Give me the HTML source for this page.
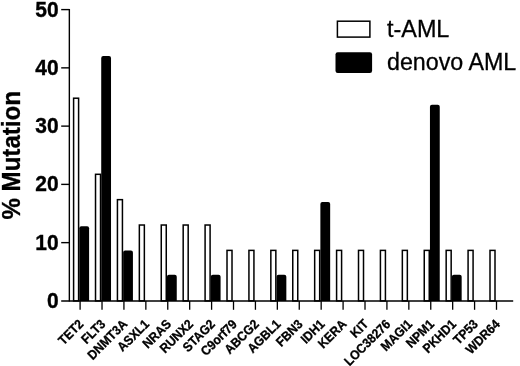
<!DOCTYPE html>
<html><head><meta charset="utf-8"><title>Mutation chart</title>
<style>
html,body{margin:0;padding:0;background:#fff;}
svg{display:block;font-family:"Liberation Sans",Arial,sans-serif;}
</style></head><body>
<svg width="520" height="366" viewBox="0 0 520 366">
<rect width="520" height="366" fill="#fff"/>

<rect x="73.60" y="98.21" width="5" height="202.69" fill="#fff" stroke="#000" stroke-width="1.5"/>
<path d="M79.30 300.9 V228.19 q0 -2 2 -2 h5.8 q2 0 2 2 V300.9 z" fill="#000"/>
<rect x="95.52" y="174.30" width="5" height="126.60" fill="#fff" stroke="#000" stroke-width="1.5"/>
<path d="M101.22 300.9 V58.06 q0 -2 2 -2 h5.8 q2 0 2 2 V300.9 z" fill="#000"/>
<rect x="117.43" y="199.66" width="5" height="101.24" fill="#fff" stroke="#000" stroke-width="1.5"/>
<path d="M123.13 300.9 V252.49 q0 -2 2 -2 h5.8 q2 0 2 2 V300.9 z" fill="#000"/>
<rect x="139.35" y="225.02" width="5" height="75.88" fill="#fff" stroke="#000" stroke-width="1.5"/>
<rect x="161.26" y="225.02" width="5" height="75.88" fill="#fff" stroke="#000" stroke-width="1.5"/>
<path d="M166.96 300.9 V276.80 q0 -2 2 -2 h5.8 q2 0 2 2 V300.9 z" fill="#000"/>
<rect x="183.18" y="225.02" width="5" height="75.88" fill="#fff" stroke="#000" stroke-width="1.5"/>
<rect x="205.09" y="225.02" width="5" height="75.88" fill="#fff" stroke="#000" stroke-width="1.5"/>
<path d="M210.79 300.9 V276.80 q0 -2 2 -2 h5.8 q2 0 2 2 V300.9 z" fill="#000"/>
<rect x="227.01" y="250.38" width="5" height="50.52" fill="#fff" stroke="#000" stroke-width="1.5"/>
<rect x="248.93" y="250.38" width="5" height="50.52" fill="#fff" stroke="#000" stroke-width="1.5"/>
<rect x="270.84" y="250.38" width="5" height="50.52" fill="#fff" stroke="#000" stroke-width="1.5"/>
<path d="M276.54 300.9 V276.80 q0 -2 2 -2 h5.8 q2 0 2 2 V300.9 z" fill="#000"/>
<rect x="292.76" y="250.38" width="5" height="50.52" fill="#fff" stroke="#000" stroke-width="1.5"/>
<rect x="314.67" y="250.38" width="5" height="50.52" fill="#fff" stroke="#000" stroke-width="1.5"/>
<path d="M320.37 300.9 V203.88 q0 -2 2 -2 h5.8 q2 0 2 2 V300.9 z" fill="#000"/>
<rect x="336.59" y="250.38" width="5" height="50.52" fill="#fff" stroke="#000" stroke-width="1.5"/>
<rect x="358.51" y="250.38" width="5" height="50.52" fill="#fff" stroke="#000" stroke-width="1.5"/>
<rect x="380.42" y="250.38" width="5" height="50.52" fill="#fff" stroke="#000" stroke-width="1.5"/>
<rect x="402.34" y="250.38" width="5" height="50.52" fill="#fff" stroke="#000" stroke-width="1.5"/>
<rect x="424.25" y="250.38" width="5" height="50.52" fill="#fff" stroke="#000" stroke-width="1.5"/>
<path d="M429.95 300.9 V106.67 q0 -2 2 -2 h5.8 q2 0 2 2 V300.9 z" fill="#000"/>
<rect x="446.17" y="250.38" width="5" height="50.52" fill="#fff" stroke="#000" stroke-width="1.5"/>
<path d="M451.87 300.9 V276.80 q0 -2 2 -2 h5.8 q2 0 2 2 V300.9 z" fill="#000"/>
<rect x="468.08" y="250.38" width="5" height="50.52" fill="#fff" stroke="#000" stroke-width="1.5"/>
<rect x="490.00" y="250.38" width="5" height="50.52" fill="#fff" stroke="#000" stroke-width="1.5"/>
<line x1="69.35" y1="8.9" x2="69.35" y2="301.59999999999997" stroke="#000" stroke-width="1.4"/>
<line x1="61.2" y1="300.9" x2="513.2" y2="300.9" stroke="#000" stroke-width="1.5"/>
<line x1="61.2" y1="242.64" x2="69.35" y2="242.64" stroke="#000" stroke-width="1.4"/>
<line x1="61.2" y1="184.38" x2="69.35" y2="184.38" stroke="#000" stroke-width="1.4"/>
<line x1="61.2" y1="126.12" x2="69.35" y2="126.12" stroke="#000" stroke-width="1.4"/>
<line x1="61.2" y1="67.86" x2="69.35" y2="67.86" stroke="#000" stroke-width="1.4"/>
<line x1="61.2" y1="9.60" x2="69.35" y2="9.60" stroke="#000" stroke-width="1.4"/>
<text transform="translate(58.6,307.80) scale(1,1.07)" font-size="21" font-weight="bold" stroke="#000" stroke-width="0.35" text-anchor="end">0</text>
<text transform="translate(58.6,249.54) scale(1,1.07)" font-size="21" font-weight="bold" stroke="#000" stroke-width="0.35" text-anchor="end">10</text>
<text transform="translate(58.6,191.28) scale(1,1.07)" font-size="21" font-weight="bold" stroke="#000" stroke-width="0.35" text-anchor="end">20</text>
<text transform="translate(58.6,133.02) scale(1,1.07)" font-size="21" font-weight="bold" stroke="#000" stroke-width="0.35" text-anchor="end">30</text>
<text transform="translate(58.6,74.76) scale(1,1.07)" font-size="21" font-weight="bold" stroke="#000" stroke-width="0.35" text-anchor="end">40</text>
<text transform="translate(58.6,16.50) scale(1,1.07)" font-size="21" font-weight="bold" stroke="#000" stroke-width="0.35" text-anchor="end">50</text>
<line x1="80.10" y1="300.9" x2="80.10" y2="309.8" stroke="#000" stroke-width="1.3"/>
<text transform="translate(84.30,324.9) rotate(-45) scale(1,1.08)" font-size="12.05" font-weight="bold" stroke="#000" stroke-width="0.3" text-anchor="end">TET2</text>
<line x1="102.02" y1="300.9" x2="102.02" y2="309.8" stroke="#000" stroke-width="1.3"/>
<text transform="translate(106.22,324.9) rotate(-45) scale(1,1.08)" font-size="12.05" font-weight="bold" stroke="#000" stroke-width="0.3" text-anchor="end">FLT3</text>
<line x1="123.93" y1="300.9" x2="123.93" y2="309.8" stroke="#000" stroke-width="1.3"/>
<text transform="translate(128.13,324.9) rotate(-45) scale(1,1.08)" font-size="12.05" font-weight="bold" stroke="#000" stroke-width="0.3" text-anchor="end">DNMT3A</text>
<line x1="145.85" y1="300.9" x2="145.85" y2="309.8" stroke="#000" stroke-width="1.3"/>
<text transform="translate(150.05,324.9) rotate(-45) scale(1,1.08)" font-size="12.05" font-weight="bold" stroke="#000" stroke-width="0.3" text-anchor="end">ASXL1</text>
<line x1="167.76" y1="300.9" x2="167.76" y2="309.8" stroke="#000" stroke-width="1.3"/>
<text transform="translate(171.96,324.9) rotate(-45) scale(1,1.08)" font-size="12.05" font-weight="bold" stroke="#000" stroke-width="0.3" text-anchor="end">NRAS</text>
<line x1="189.68" y1="300.9" x2="189.68" y2="309.8" stroke="#000" stroke-width="1.3"/>
<text transform="translate(193.88,324.9) rotate(-45) scale(1,1.08)" font-size="12.05" font-weight="bold" stroke="#000" stroke-width="0.3" text-anchor="end">RUNX2</text>
<line x1="211.59" y1="300.9" x2="211.59" y2="309.8" stroke="#000" stroke-width="1.3"/>
<text transform="translate(215.79,324.9) rotate(-45) scale(1,1.08)" font-size="12.05" font-weight="bold" stroke="#000" stroke-width="0.3" text-anchor="end">STAG2</text>
<line x1="233.51" y1="300.9" x2="233.51" y2="309.8" stroke="#000" stroke-width="1.3"/>
<text transform="translate(237.71,324.9) rotate(-45) scale(1,1.08)" font-size="12.05" font-weight="bold" stroke="#000" stroke-width="0.3" text-anchor="end">C9orf79</text>
<line x1="255.43" y1="300.9" x2="255.43" y2="309.8" stroke="#000" stroke-width="1.3"/>
<text transform="translate(259.63,324.9) rotate(-45) scale(1,1.08)" font-size="12.05" font-weight="bold" stroke="#000" stroke-width="0.3" text-anchor="end">ABCG2</text>
<line x1="277.34" y1="300.9" x2="277.34" y2="309.8" stroke="#000" stroke-width="1.3"/>
<text transform="translate(281.54,324.9) rotate(-45) scale(1,1.08)" font-size="12.05" font-weight="bold" stroke="#000" stroke-width="0.3" text-anchor="end">AGBL1</text>
<line x1="299.26" y1="300.9" x2="299.26" y2="309.8" stroke="#000" stroke-width="1.3"/>
<text transform="translate(303.46,324.9) rotate(-45) scale(1,1.08)" font-size="12.05" font-weight="bold" stroke="#000" stroke-width="0.3" text-anchor="end">FBN3</text>
<line x1="321.17" y1="300.9" x2="321.17" y2="309.8" stroke="#000" stroke-width="1.3"/>
<text transform="translate(325.37,324.9) rotate(-45) scale(1,1.08)" font-size="12.05" font-weight="bold" stroke="#000" stroke-width="0.3" text-anchor="end">IDH1</text>
<line x1="343.09" y1="300.9" x2="343.09" y2="309.8" stroke="#000" stroke-width="1.3"/>
<text transform="translate(347.29,324.9) rotate(-45) scale(1,1.08)" font-size="12.05" font-weight="bold" stroke="#000" stroke-width="0.3" text-anchor="end">KERA</text>
<line x1="365.01" y1="300.9" x2="365.01" y2="309.8" stroke="#000" stroke-width="1.3"/>
<text transform="translate(369.21,324.9) rotate(-45) scale(1,1.08)" font-size="12.05" font-weight="bold" stroke="#000" stroke-width="0.3" text-anchor="end">KIT</text>
<line x1="386.92" y1="300.9" x2="386.92" y2="309.8" stroke="#000" stroke-width="1.3"/>
<text transform="translate(391.12,324.9) rotate(-45) scale(1,1.08)" font-size="12.05" font-weight="bold" stroke="#000" stroke-width="0.3" text-anchor="end">LOC38276</text>
<line x1="408.84" y1="300.9" x2="408.84" y2="309.8" stroke="#000" stroke-width="1.3"/>
<text transform="translate(413.04,324.9) rotate(-45) scale(1,1.08)" font-size="12.05" font-weight="bold" stroke="#000" stroke-width="0.3" text-anchor="end">MAGI1</text>
<line x1="430.75" y1="300.9" x2="430.75" y2="309.8" stroke="#000" stroke-width="1.3"/>
<text transform="translate(434.95,324.9) rotate(-45) scale(1,1.08)" font-size="12.05" font-weight="bold" stroke="#000" stroke-width="0.3" text-anchor="end">NPM1</text>
<line x1="452.67" y1="300.9" x2="452.67" y2="309.8" stroke="#000" stroke-width="1.3"/>
<text transform="translate(456.87,324.9) rotate(-45) scale(1,1.08)" font-size="12.05" font-weight="bold" stroke="#000" stroke-width="0.3" text-anchor="end">PKHD1</text>
<line x1="474.58" y1="300.9" x2="474.58" y2="309.8" stroke="#000" stroke-width="1.3"/>
<text transform="translate(478.78,324.9) rotate(-45) scale(1,1.08)" font-size="12.05" font-weight="bold" stroke="#000" stroke-width="0.3" text-anchor="end">TP53</text>
<line x1="496.50" y1="300.9" x2="496.50" y2="309.8" stroke="#000" stroke-width="1.3"/>
<text transform="translate(500.70,324.9) rotate(-45) scale(1,1.08)" font-size="12.05" font-weight="bold" stroke="#000" stroke-width="0.3" text-anchor="end">WDR64</text>
<text transform="translate(20,155.3) rotate(-90) scale(1,1.06)" font-size="24.1" font-weight="bold" stroke="#000" stroke-width="0.3" text-anchor="middle">% Mutation</text>
<rect x="337.4" y="21.2" width="32.5" height="15.9" fill="#fff" stroke="#000" stroke-width="1.5"/>
<rect x="335.5" y="52.2" width="36.6" height="20.8" rx="2.2" fill="#000"/>
<text transform="translate(387,37.1) scale(1,1.04)" font-size="23.4" stroke="#000" stroke-width="0.3">t-AML</text>
<text transform="translate(387,70.1) scale(1,1.04)" font-size="23.25" stroke="#000" stroke-width="0.3">denovo AML</text>
</svg></body></html>
